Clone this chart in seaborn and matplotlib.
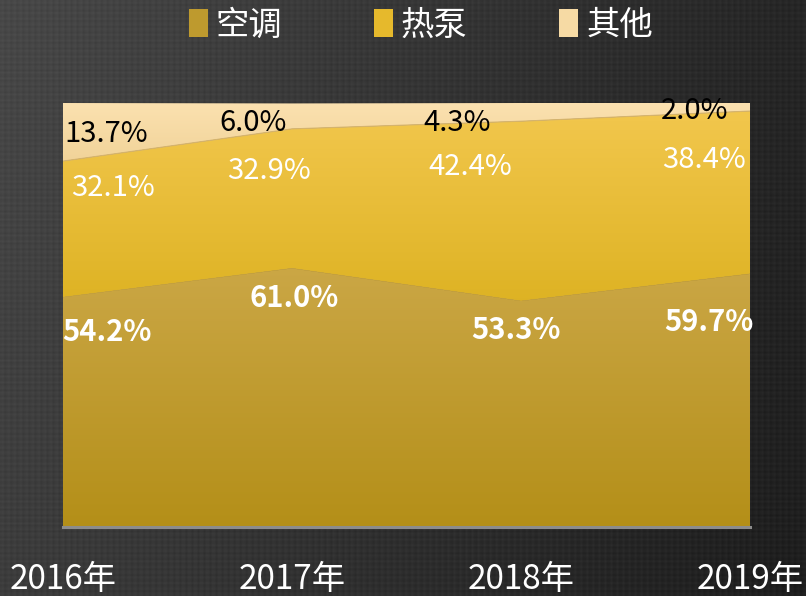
import numpy as np
import pandas as pd
import matplotlib
matplotlib.use("Agg")
import matplotlib.pyplot as plt
from matplotlib.colors import LinearSegmentedColormap
from matplotlib.patches import Patch
import seaborn as sns

# ---- data -------------------------------------------------------------
years = ["2016年", "2017年", "2018年", "2019年"]
series_names = ["空调", "热泵", "其他"]
aircon = [54.2, 61.0, 53.3, 59.7]
heatpump = [32.1, 32.9, 42.4, 38.4]
other = [13.7, 6.0, 4.3, 2.0]

sns.set_style("white")
plt.rcParams["font.family"] = ["Noto Sans CJK SC", "DejaVu Sans"]

W, H, DPI = 806, 596, 100
fig = plt.figure(figsize=(W / DPI, H / DPI), dpi=DPI)

# ---- dark background with a soft diagonal falloff --------------------
bg_ax = fig.add_axes([0, 0, 1, 1], zorder=-10)
gx = np.linspace(0, 1, 400)[None, :]
gy = np.linspace(0, 1, 300)[:, None]
tl, tr, bl, br = 0x48, 0x26, 0x3c, 0x1e
level = (tl * (1 - gx) * (1 - gy) + tr * gx * (1 - gy)
         + bl * (1 - gx) * gy + br * gx * gy) / 255.0
# faint woven texture
weave = 0.014 * (np.sin(np.arange(400) * 2.1)[None, :] + np.sin(np.arange(300) * 2.3)[:, None])
level = np.clip(level + weave, 0, 1)
bg_ax.imshow(np.dstack([level] * 3), aspect="auto", extent=[0, 1, 0, 1],
             interpolation="bilinear")
bg_ax.set_axis_off()

# ---- main plotting area ---------------------------------------------
ax = fig.add_axes([63 / W, 1 - 527 / H, 687 / W, 424 / H])
ax.set_facecolor("none")

x = np.arange(len(years))
lower1 = np.zeros(len(years))
upper1 = np.array(aircon)
upper2 = upper1 + np.array(heatpump)
upper3 = upper2 + np.array(other)

bounds = pd.DataFrame({
    "x": np.concatenate([x, x]),
    "y": np.concatenate([upper1, upper2]),
    "edge": ["a"] * len(x) + ["b"] * len(x),
})

gradients = [
    (lower1, upper1, ["#B48F18", "#CBA746"], (0, 62)),
    (upper1, upper2, ["#DAAF1C", "#F3C84F"], (45, 100)),
    (upper2, upper3, ["#F0D296", "#FBE1B0"], (85, 100)),
]
for i, (lo, hi, cols, (v0, v1)) in enumerate(gradients):
    poly = ax.fill_between(x, lo, hi, facecolor="none", edgecolor="none")
    cmap = LinearSegmentedColormap.from_list(f"g{i}", cols)
    grad = np.linspace(0, 1, 256)[:, None]
    im = ax.imshow(grad, cmap=cmap, aspect="auto", origin="lower",
                   extent=[x[0], x[-1], v0, v1], zorder=1 + i * 0.1,
                   interpolation="bilinear")
    im.set_clip_path(poly.get_paths()[0], ax.transData)

# thin boundary between the heat-pump and other bands
sns.lineplot(data=bounds[bounds.edge == "b"], x="x", y="y", ax=ax,
             color="#D6B46C", lw=0.8, zorder=3, legend=False)
sns.lineplot(data=bounds[bounds.edge == "a"], x="x", y="y", ax=ax,
             color="#CCA744", lw=0.5, zorder=3, legend=False)

ax.set_xlim(x[0], x[-1])
ax.set_ylim(0, 100)
ax.set_xlabel("")
ax.set_ylabel("")
ax.set_yticks([])
ax.set_xticks(x)
ax.set_xticklabels(years, color="white", fontsize=24)
ax.tick_params(axis="x", length=0, pad=25)
for s in ["top", "left", "right"]:
    ax.spines[s].set_visible(False)
ax.spines["bottom"].set_color("#8C8C8C")
ax.spines["bottom"].set_linewidth(2.2)
ax.spines["bottom"].set_zorder(5)

# ---- value labels ----------------------------------------------------
label_spots = {
    "其他": ([0.19, 0.83, 1.72, 2.76], [92.6, 95.3, 95.3, 98.0]),
    "热泵": ([0.22, 0.90, 1.78, 2.80], [80.0, 84.0, 85.0, 86.6]),
    "空调": ([0.19, 1.01, 1.98, 2.82], [46.0, 54.0, 46.5, 48.4]),
}
styles = {
    "其他": dict(color="black", fontweight="normal"),
    "热泵": dict(color="white", fontweight="normal"),
    "空调": dict(color="white", fontweight="bold"),
}
values = {"空调": aircon, "热泵": heatpump, "其他": other}
for name in series_names:
    xs, ys = label_spots[name]
    for v, lx, ly in zip(values[name], xs, ys):
        ax.text(lx, ly, f"{v:.1f}%", ha="center", va="center", fontsize=21,
                zorder=6, clip_on=False, **styles[name])

# ---- legend ----------------------------------------------------------
handles = [Patch(facecolor=c, edgecolor="none")
           for c in ["#BE9A2E", "#E6B92C", "#F6DAA4"]]
leg = fig.legend(handles, series_names, loc="center", bbox_to_anchor=(421 / W, 1 - 25 / H),
                 ncol=3, frameon=False, fontsize=24, labelcolor="white",
                 handlelength=0.55, handleheight=0.9, handletextpad=0.25,
                 columnspacing=2.75)

fig.savefig("out.png", dpi=DPI)
